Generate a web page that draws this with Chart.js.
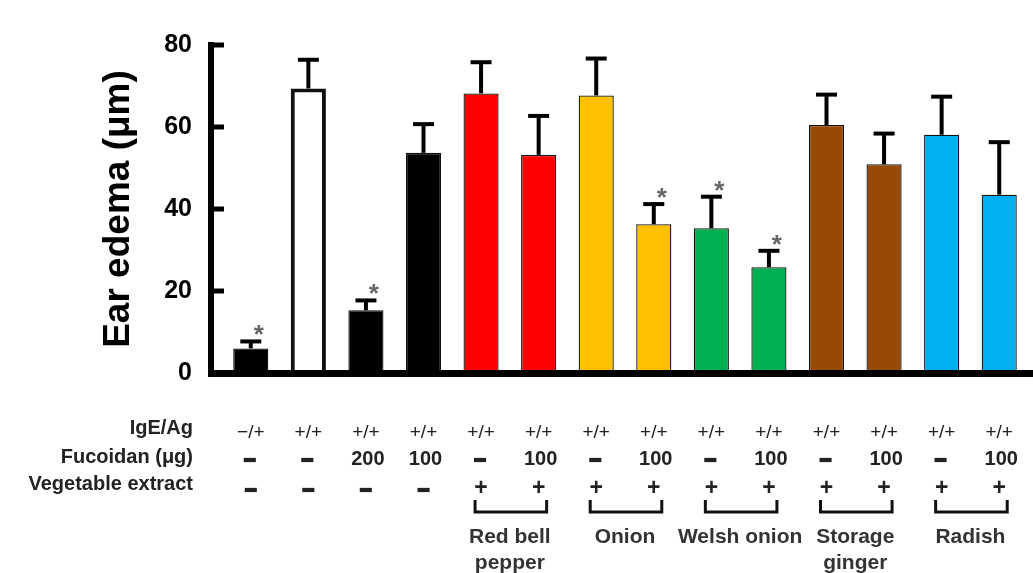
<!DOCTYPE html>
<html>
<head>
<meta charset="utf-8">
<script src="https://cdn.jsdelivr.net/npm/chart.js@4"></script>
<style>
  html, body { margin: 0; padding: 0; background: #fff; }
  #wrap { width: 1033px; height: 573px; }
</style>
</head>
<body>
<div id="wrap"><canvas id="chart" width="1033" height="573"></canvas></div>
<script>
// ===== Data =====
const igeAg    = ['−/+', '+/+', '+/+', '+/+', '+/+', '+/+', '+/+', '+/+', '+/+', '+/+', '+/+', '+/+', '+/+', '+/+'];
const fucoidan = ['–', '–', '200', '100', '–', '100', '–', '100', '–', '100', '–', '100', '–', '100'];
const extract  = ['–', '–', '–', '–', '+', '+', '+', '+', '+', '+', '+', '+', '+', '+'];
const means    = [6.0, 69.4, 15.3, 53.7, 68.2, 53.2, 67.7, 36.3, 35.3, 25.8, 60.5, 50.9, 58.1, 43.5];
const errors   = [1.7, 7.0, 2.4, 7.0, 7.6, 9.5, 9.0, 4.9, 7.7, 4.0, 7.4, 7.5, 9.3, 12.8];
const signif   = [true, false, true, false, false, false, false, true, true, true, false, false, false, false];
const groupFrom  = [4, 6, 8, 10, 12];
const groupTo    = [5, 7, 9, 11, 13];
const groupNames = [['Red bell', 'pepper'], ['Onion'], ['Welsh onion'], ['Storage', 'ginger'], ['Radish']];
const yTicks = [0, 20, 40, 60, 80];

const categories = igeAg.map((v, i) => `${v} ${fucoidan[i]} ${extract[i]} #${i + 1}`);

// ===== Styles =====
const FONT = "'Liberation Sans', Arial, sans-serif";
const barColors = ['#000000', '#ffffff', '#000000', '#000000', '#ff0000', '#ff0000', '#ffc000', '#ffc000',
                   '#00b050', '#00b050', '#984807', '#984807', '#00b0f0', '#00b0f0'];
const barBorders = barColors.map((c, i) => i === 1 ? 4 : 1.3);

// bold symbol; the dash gets thickened so it looks like the heavy bar of the original
function heavyText(ctx, t, px, py) {
  if (t === '+') {
    ctx.font = `bold 23px ${FONT}`;
    ctx.fillText(t, px, py);
    ctx.font = `bold 20px ${FONT}`;
    return;
  }
  ctx.fillText(t, px, py);
  if (t === '–') {
    ctx.lineWidth = 2.2;
    ctx.strokeStyle = ctx.fillStyle;
    ctx.strokeText(t, px, py);
  }
}

// axes, error bars, stars and the condition table under the chart
const decorPlugin = {
  id: 'decor',
  afterDatasetsDraw(chart) {
    const ctx = chart.ctx, x = chart.scales.x, y = chart.scales.y;
    const area = chart.chartArea;
    ctx.save();
    ctx.strokeStyle = '#000';
    ctx.lineCap = 'butt';

    // error bars (upper only)
    means.forEach((m, i) => {
      const cx = x.getPixelForValue(i);
      const top = y.getPixelForValue(m);
      const cap = y.getPixelForValue(m + errors[i]);
      ctx.lineWidth = 4;
      ctx.beginPath(); ctx.moveTo(cx, top); ctx.lineTo(cx, cap); ctx.stroke();
      ctx.beginPath(); ctx.moveTo(cx - 10.5, cap); ctx.lineTo(cx + 10.5, cap); ctx.stroke();
      if (signif[i]) {
        ctx.fillStyle = '#666';
        ctx.font = `bold 26px ${FONT}`;
        ctx.textAlign = 'center';
        ctx.textBaseline = 'alphabetic';
        ctx.fillText('*', cx + 8, cap + 2);
      }
    });

    // axis lines
    const axX = area.left - 11;
    ctx.lineWidth = 6;
    ctx.beginPath(); ctx.moveTo(axX, area.top - 3); ctx.lineTo(axX, area.bottom + 4); ctx.stroke();
    ctx.lineWidth = 7;
    ctx.beginPath(); ctx.moveTo(axX - 3, area.bottom + 0.5); ctx.lineTo(chart.width, area.bottom + 0.5); ctx.stroke();
    ctx.lineWidth = 5;
    yTicks.forEach(v => {
      const py = y.getPixelForValue(v);
      ctx.beginPath(); ctx.moveTo(axX, py); ctx.lineTo(axX + 13, py); ctx.stroke();
    });

    // condition table
    ctx.fillStyle = '#222';
    ctx.textBaseline = 'middle';
    ctx.textAlign = 'right';
    ctx.font = `bold 20px ${FONT}`;
    ctx.fillText('IgE/Ag', 193, 428);
    ctx.fillText('Fucoidan (μg)', 193, 457);
    ctx.fillText('Vegetable extract', 193, 484);

    ctx.textAlign = 'center';
    igeAg.forEach((t, i) => {
      const cx = x.getPixelForValue(i);
      ctx.font = `19px ${FONT}`;
      ctx.fillText(t, cx, 433);
      ctx.font = `bold 20px ${FONT}`;
      heavyText(ctx, fucoidan[i], cx + (fucoidan[i] === '–' ? -1 : 2), 459);
      heavyText(ctx, extract[i], cx, 489);
    });

    // brackets + group names
    ctx.strokeStyle = '#111';
    groupFrom.forEach((a, g) => {
      const xa = x.getPixelForValue(a) - 6;
      const xb = x.getPixelForValue(groupTo[g]) + 8;
      ctx.lineWidth = 3;
      ctx.beginPath();
      ctx.moveTo(xa, 500); ctx.lineTo(xa, 512); ctx.lineTo(xb, 512); ctx.lineTo(xb, 500);
      ctx.stroke();
      const mid = (x.getPixelForValue(a) + x.getPixelForValue(groupTo[g])) / 2;
      ctx.fillStyle = '#333';
      ctx.font = `bold 21px ${FONT}`;
      groupNames[g].forEach((line, k) => ctx.fillText(line, mid, 537 + k * 26));
    });
    ctx.restore();
  }
};

new Chart(document.getElementById('chart'), {
  type: 'bar',
  data: {
    labels: categories,
    datasets: [{
      data: means,
      backgroundColor: barColors,
      borderColor: '#111',
      borderWidth: barBorders,
      categoryPercentage: 1,
      barPercentage: 0.61
    }]
  },
  options: {
    responsive: false,
    animation: false,
    layout: { padding: { top: 29, right: 5, bottom: 200, left: 0 } },
    plugins: { legend: { display: false }, tooltip: { enabled: false } },
    scales: {
      x: { display: false },
      y: {
        min: 0, max: 80,
        afterFit: s => { s.width = 222; },
        grid: { display: false, drawTicks: false },
        border: { display: false },
        ticks: { stepSize: 20, padding: 30, color: '#000', font: { family: FONT, size: 25, weight: 'bold' } },
        title: {
          display: true, text: 'Ear edema (μm)', color: '#000',
          padding: { top: 97, bottom: 0 },
          font: { family: FONT, size: 37, weight: 'bold' }
        }
      }
    }
  },
  plugins: [decorPlugin]
});
</script>
</body>
</html>
